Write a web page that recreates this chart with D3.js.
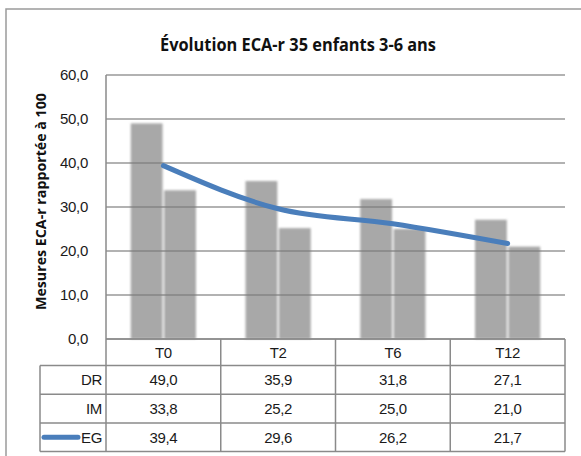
<!DOCTYPE html>
<html>
<head>
<meta charset="utf-8">
<script src="https://cdn.jsdelivr.net/npm/d3@7"></script>
<style>
  html, body { margin: 0; padding: 0; background: #fff; }
  svg { display: block; }
</style>
</head>
<body>
<svg id="chart" width="581" height="456"></svg>
<script>
// Données : mesures ECA-r (rapportées à 100) aux quatre temps de suivi
const categories = ["T0", "T2", "T6", "T12"];
const seriesNames = ["DR", "IM", "EG"];
const valuesDR = [49.0, 35.9, 31.8, 27.1];
const valuesIM = [33.8, 25.2, 25.0, 21.0];
const valuesEG = [39.4, 29.6, 26.2, 21.7];
const yTicks = [0, 10, 20, 30, 40, 50, 60];

const fmt = v => d3.format(".1f")(v).replace(".", ",");

const svg = d3.select("#chart");
const W = 581, H = 456;

// Cadre du graphique
svg.append("rect")
  .attr("x", 6).attr("y", 9).attr("width", W + 10).attr("height", H + 10)
  .attr("fill", "#fff").attr("stroke", "#9a9a9a").attr("stroke-width", 1.5);

const plot = { left: 106, right: 565, top: 75, bottom: 339 };

const x = d3.scaleBand().domain(categories).range([plot.left, plot.right]);
const y = d3.scaleLinear().domain([0, 60]).range([plot.bottom, plot.top]);
const inner = d3.scaleBand().domain(["DR", "IM"]).range([0, x.bandwidth()])
  .paddingInner(0).paddingOuter(0.76);

// Flou léger des barres
const defs = svg.append("defs");
defs.append("filter").attr("id", "soft")
  .attr("x", "-10%").attr("y", "-10%").attr("width", "120%").attr("height", "120%")
  .append("feGaussianBlur").attr("stdDeviation", 0.9);

// Titre
svg.append("text")
  .attr("x", 160).attr("y", 51)
  .attr("textLength", 276).attr("lengthAdjust", "spacingAndGlyphs")
  .attr("font-family", "'Open Sans', sans-serif")
  .attr("font-weight", "bold").attr("font-size", 17)
  .attr("fill", "#111")
  .text("Évolution ECA-r 35 enfants 3-6 ans");

// Titre de l'axe vertical
svg.append("text")
  .attr("transform", "translate(46,310) rotate(-90)")
  .attr("textLength", 217).attr("lengthAdjust", "spacingAndGlyphs")
  .attr("font-family", "'Open Sans', sans-serif")
  .attr("font-weight", "bold").attr("font-size", 14.5)
  .attr("fill", "#111")
  .text("Mesures ECA-r rapportée à 100");

// Quadrillage horizontal
svg.append("g").selectAll("line").data(yTicks).join("line")
  .attr("x1", plot.left).attr("x2", plot.right)
  .attr("y1", d => y(d)).attr("y2", d => y(d))
  .attr("stroke", "#999").attr("stroke-width", 1.5);

const textFont = sel => sel
  .attr("font-family", "'Liberation Sans', Arial, sans-serif")
  .attr("font-size", 15).attr("letter-spacing", -0.3).attr("fill", "#1a1a1a");

// Graduations de l'axe vertical
svg.append("g").selectAll("text").data(yTicks).join("text")
  .attr("x", 88).attr("y", d => y(d) + 5)
  .attr("text-anchor", "end")
  .call(textFont)
  .text(d => fmt(d));

// Barres DR et IM
const barData = [];
categories.forEach((c, i) => {
  barData.push({ cat: c, key: "DR", v: valuesDR[i] });
  barData.push({ cat: c, key: "IM", v: valuesIM[i] });
});
svg.append("g").attr("filter", "url(#soft)")
  .selectAll("rect").data(barData).join("rect")
  .attr("x", d => x(d.cat) + inner(d.key) + (d.key === "IM" ? 0.8 : 0))
  .attr("width", d => inner.bandwidth() - 0.8)
  .attr("y", d => y(d.v))
  .attr("height", d => y(0) - y(d.v))
  .attr("fill", "#7a7a7a").attr("fill-opacity", 0.65);

// Courbe EG
const line = d3.line()
  .x((d, i) => x(categories[i]) + x.bandwidth() / 2)
  .y(d => y(d))
  .curve(d3.curveMonotoneX);
svg.append("path").datum(valuesEG)
  .attr("d", line)
  .attr("fill", "none").attr("stroke", "#4a7ebb")
  .attr("stroke-width", 5).attr("stroke-linecap", "round").attr("stroke-linejoin", "round");

// Tableau de données sous l'axe
const rowTop = plot.bottom;
const headerH = 26.5;
const rowH = 28.7;
const labelLeft = 40;
const tbl = svg.append("g");

function hline(x1, x2, yy) {
  tbl.append("line").attr("x1", x1).attr("x2", x2).attr("y1", yy).attr("y2", yy)
    .attr("stroke", "#8a8a8a").attr("stroke-width", 1.5);
}
function vline(xx, y1, y2) {
  tbl.append("line").attr("x1", xx).attr("x2", xx).attr("y1", y1).attr("y2", y2)
    .attr("stroke", "#8a8a8a").attr("stroke-width", 1.5);
}

const tableBottom = rowTop + headerH + rowH * seriesNames.length;
hline(plot.left, plot.right, rowTop);
for (let r = 0; r <= seriesNames.length; r++) {
  hline(labelLeft, plot.right, rowTop + headerH + r * rowH);
}
vline(labelLeft, rowTop + headerH, tableBottom);
vline(plot.left, plot.top, tableBottom);
categories.forEach(c => vline(x(c) + x.bandwidth(), rowTop, tableBottom));

// En-têtes de colonnes
tbl.selectAll("text.head").data(categories).join("text")
  .attr("class", "head")
  .attr("x", d => x(d) + x.bandwidth() / 2)
  .attr("y", rowTop + headerH / 2 + 5.5)
  .attr("text-anchor", "middle")
  .call(textFont)
  .text(d => d);

const rows = [valuesDR, valuesIM, valuesEG];
rows.forEach((vals, r) => {
  const cy = rowTop + headerH + r * rowH + rowH / 2 + 5.5;
  tbl.append("text")
    .attr("x", plot.left - 4).attr("y", cy)
    .attr("text-anchor", "end")
    .call(textFont)
    .text(seriesNames[r]);
  tbl.selectAll(null).data(vals).join("text")
    .attr("x", (d, i) => x(categories[i]) + x.bandwidth() / 2)
    .attr("y", cy)
    .attr("text-anchor", "middle")
    .call(textFont)
    .text(d => fmt(d));
});

// Légende de la courbe dans la ligne EG
const egY = rowTop + headerH + 2 * rowH + rowH / 2;
tbl.append("line")
  .attr("x1", 44).attr("x2", 78).attr("y1", egY).attr("y2", egY)
  .attr("stroke", "#4a7ebb").attr("stroke-width", 5).attr("stroke-linecap", "round");
</script>
</body>
</html>
